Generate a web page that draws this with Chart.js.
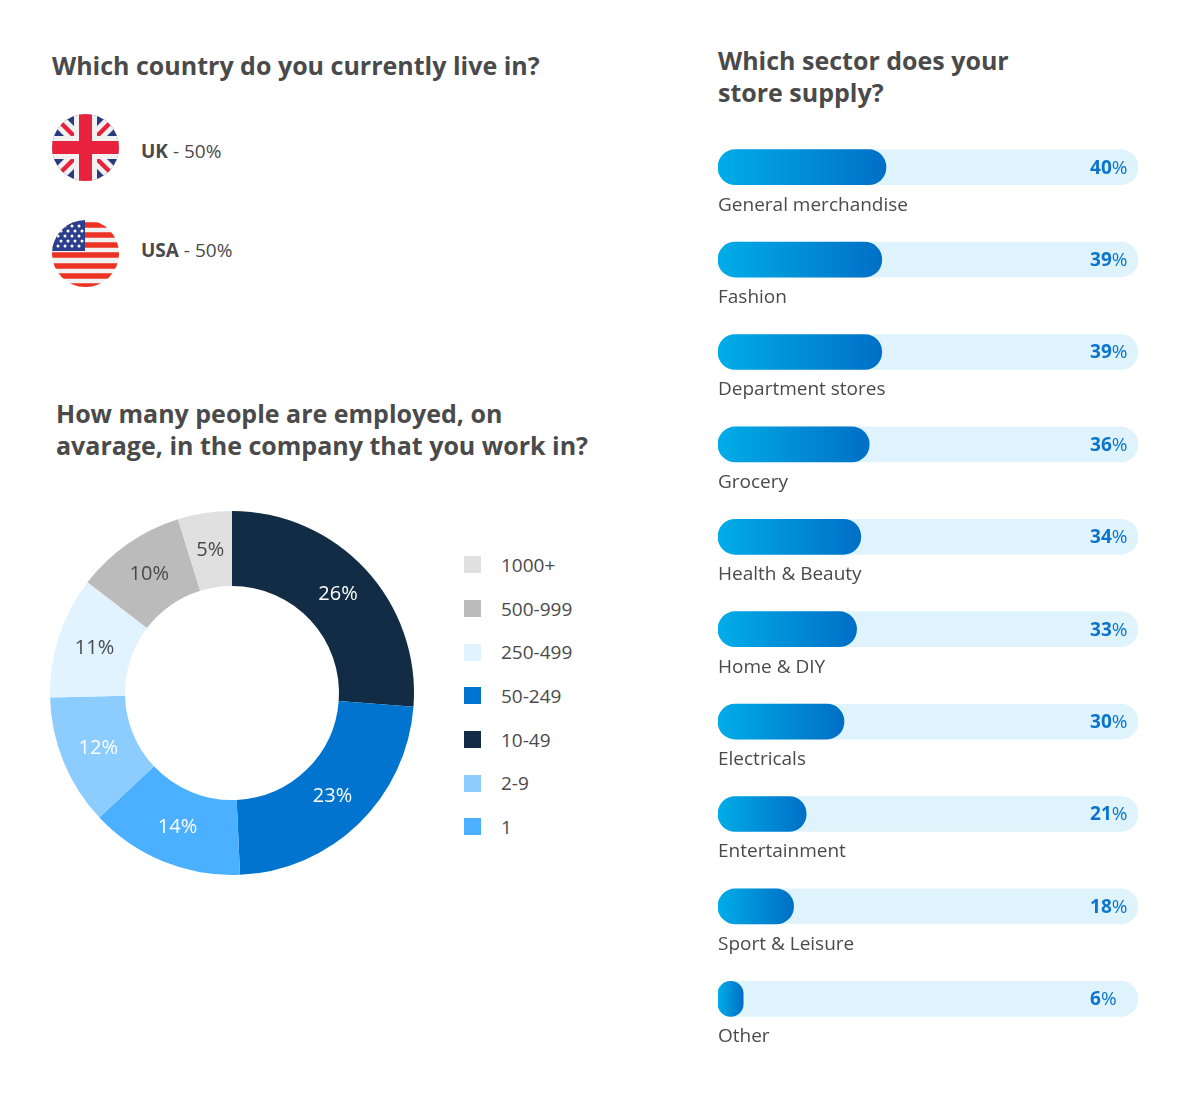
<!DOCTYPE html>
<html>
<head>
<meta charset="utf-8">
<title>Survey results</title>
<script src="https://cdn.jsdelivr.net/npm/chart.js@4"></script>
<style>
  html, body { margin: 0; background: #fff; }
  body { position: relative; width: 1200px; height: 1097px; overflow: hidden; font-family: "Open Sans", sans-serif; color: #4a4a4a; }
  h2 { position: absolute; margin: 0; font-size: 25px; line-height: 32px; font-weight: 700; color: #4a4a4a; white-space: nowrap; }
  canvas { position: absolute; }
  .flag { position: absolute; left: 52px; width: 67px; height: 67px; }
  .share { position: absolute; left: 141px; font-size: 19px; line-height: 24px; white-space: nowrap; }
  .share b { font-weight: 700; }
  #legend { position: absolute; left: 464px; top: 543px; }
  #legend div { height: 43.7px; display: flex; align-items: center; font-size: 19px; }
  #legend i { width: 17px; height: 17px; margin-right: 20px; }
</style>
</head>
<body>
<h2 style="left:52px;top:49px">Which country do you currently live in?</h2>
<h2 style="left:56px;top:397px">How many people are employed, on<br>avarage, in the company that you work in?</h2>
<h2 style="left:718px;top:44px">Which sector does your<br>store supply?</h2>

<svg class="flag" style="top:114px" viewBox="0 0 67 67">
  <defs><clipPath id="cu"><circle cx="33.5" cy="33.5" r="33.5"/></clipPath></defs>
  <g clip-path="url(#cu)">
    <rect width="67" height="67" fill="#2A3A80"/>
    <path d="M0 0L67 67M67 0L0 67" stroke="#f1f1f1" stroke-width="14"/>
    <path d="M6 6L61 61M61 6L6 61" stroke="#E8213C" stroke-width="4.5"/>
    <rect x="22" width="23" height="67" fill="#f1f1f1"/>
    <rect y="22" width="67" height="23" fill="#f1f1f1"/>
    <rect x="27" width="13" height="67" fill="#E8213C"/>
    <rect y="27" width="67" height="13" fill="#E8213C"/>
  </g>
</svg>
<svg class="flag" style="top:220px" viewBox="0 0 67 67">
  <defs><clipPath id="cs"><circle cx="33.5" cy="33.5" r="33.5"/></clipPath></defs>
  <g clip-path="url(#cs)">
    <rect width="67" height="67" fill="#f1f1f1"/>
    <path d="M0 5H67M0 15H67M0 25H67M0 35H67M0 46H67M0 56H67M0 66H67" stroke="#EC3323" stroke-width="5.5"/>
    <rect width="33" height="31" fill="#2B3F8C"/>
    <path d="M6 6h.01M13 6h.01M20 6h.01M27 6h.01M9 11h.01M16 11h.01M23 11h.01M30 11h.01M6 16h.01M13 16h.01M20 16h.01M27 16h.01M9 21h.01M16 21h.01M23 21h.01M30 21h.01M6 26h.01M13 26h.01M20 26h.01M27 26h.01" stroke="#fff" stroke-width="3" stroke-linecap="round"/>
  </g>
</svg>
<div id="shares"></div>

<canvas id="empleados" width="380" height="380" style="left:42px;top:503px"></canvas>
<div id="legend"></div>
<canvas id="sectores" width="436" height="950" style="left:710px;top:121px"></canvas>

<script>
// datos
const countries = ["UK", "USA"];
const countryShares = [50, 50];

const sizeLabels = ["10-49", "50-249", "1", "2-9", "250-499", "500-999", "1000+"];
const sizeValues = [26.2, 23.1, 13.7, 11.6, 10.8, 9.8, 4.8];
const sizeColors = ["#122C45", "#0074CE", "#4BB0FF", "#8CCCFF", "#E0F3FE", "#BBBBBB", "#E0E0E0"];
const sizeTextColors = ["#fff", "#fff", "#fff", "#fff", "#4a4a4a", "#4a4a4a", "#4a4a4a"];
const legendOrder = ["1000+", "500-999", "250-499", "50-249", "10-49", "2-9", "1"];

const sectors = ["General merchandise", "Fashion", "Department stores", "Grocery", "Health & Beauty", "Home & DIY", "Electricals", "Entertainment", "Sport & Leisure", "Other"];
const sectorValues = [40, 39, 39, 36, 34, 33, 30, 21, 18, 6];
const trackValues = [100, 100, 100, 100, 100, 100, 100, 100, 100, 100];

const font = '"Open Sans", sans-serif';

// country lines
const shareTops = [139, 238];
countries.forEach(function (name, i) {
    const el = document.createElement("div");
    el.className = "share";
    el.style.top = shareTops[i] + "px";
    el.innerHTML = "<b>" + name + "</b> - " + countryShares[i] + "%";
    document.getElementById("shares").appendChild(el);
});

// legend in its own order, not the slices order
legendOrder.forEach(function (label) {
    const row = document.createElement("div");
    const box = document.createElement("i");
    box.style.background = sizeColors[sizeLabels.indexOf(label)];
    row.appendChild(box);
    row.appendChild(document.createTextNode(label));
    document.getElementById("legend").appendChild(row);
});

const sliceLabels = {
    id: "sliceLabels",
    afterDatasetsDraw(chart) {
        const ctx = chart.ctx;
        ctx.save();
        ctx.font = "20px " + font;
        ctx.textAlign = "center";
        ctx.textBaseline = "middle";
        chart.getDatasetMeta(0).data.forEach(function (arc, i) {
            const pos = arc.tooltipPosition();
            ctx.fillStyle = sizeTextColors[i];
            ctx.fillText(Math.round(sizeValues[i]) + "%", pos.x, pos.y);
        });
        ctx.restore();
    }
};

new Chart(document.getElementById("empleados"), {
    type: "doughnut",
    data: {
        labels: sizeLabels,
        datasets: [{ data: sizeValues, backgroundColor: sizeColors, borderWidth: 0 }]
    },
    options: {
        responsive: false,
        animation: false,
        cutout: "58.8%",
        layout: { padding: 8 },
        plugins: { legend: { display: false }, tooltip: { enabled: false } }
    },
    plugins: [sliceLabels]
});

function barGradient(context) {
    const chart = context.chart;
    if (!chart.chartArea) return "#0090d8";
    const x = chart.scales.x;
    const g = chart.ctx.createLinearGradient(x.getPixelForValue(0), 0, x.getPixelForValue(sectorValues[context.dataIndex]), 0);
    g.addColorStop(0, "#00ADE8");
    g.addColorStop(1, "#006FC6");
    return g;
}

const sectorLabels = {
    id: "sectorLabels",
    afterDatasetsDraw(chart) {
        const ctx = chart.ctx;
        const x = chart.scales.x;
        const y = chart.scales.y;
        ctx.save();
        ctx.textBaseline = "middle";
        sectors.forEach(function (name, i) {
            const yPos = y.getPixelForValue(i);
            ctx.font = "19px " + font;
            ctx.fillStyle = "#4a4a4a";
            ctx.fillText(name, x.left, yPos + 38);
            const num = String(sectorValues[i]);
            const numX = x.getPixelForValue(88.6);
            ctx.font = "bold 19px " + font;
            ctx.fillStyle = "#0B75CE";
            ctx.fillText(num, numX, yPos + 1);
            const w = ctx.measureText(num).width;
            ctx.font = "19px " + font;
            ctx.fillText("%", numX + w, yPos + 1);
        });
        ctx.restore();
    }
};

new Chart(document.getElementById("sectores"), {
    type: "bar",
    data: {
        labels: sectors,
        datasets: [
            { data: sectorValues, backgroundColor: barGradient, borderRadius: 17.5, borderSkipped: false, barThickness: 35 },
            { data: trackValues, backgroundColor: "#DFF3FD", borderRadius: 17.5, borderSkipped: false, barThickness: 35 }
        ]
    },
    options: {
        indexAxis: "y",
        responsive: false,
        animation: false,
        layout: { padding: { left: 8, right: 8, top: 0, bottom: 26 } },
        datasets: { bar: { grouped: false } },
        scales: {
            x: { min: 0, max: 100, display: false },
            y: { display: false }
        },
        plugins: { legend: { display: false }, tooltip: { enabled: false } }
    },
    plugins: [sectorLabels]
});
</script>
</body>
</html>
